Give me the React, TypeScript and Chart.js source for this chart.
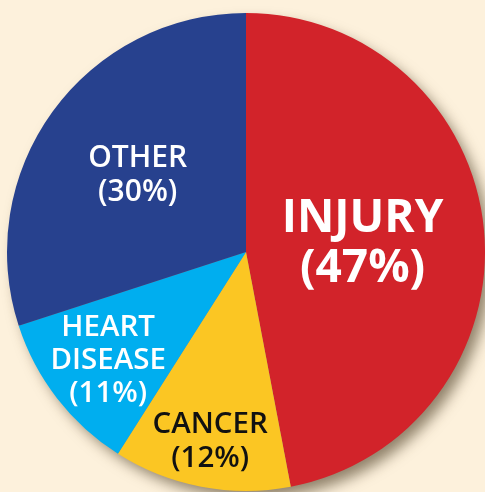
import React, { useEffect, useRef } from "react";
import { Chart, registerables } from "chart.js";

Chart.register(...registerables);

const categories = ["INJURY", "CANCER", "HEART DISEASE", "OTHER"];
const values = [47, 12, 11, 30];
const labelLines = [["INJURY", "(47%)"], ["CANCER", "(12%)"], ["HEART", "DISEASE", "(11%)"], ["OTHER", "(30%)"]];
const sliceColors = ["#D2232A", "#FBC623", "#00AEEF", "#27418E"];
const textColors = ["#FFFFFF", "#111111", "#FFFFFF", "#FFFFFF"];

const BG = "#FDF1DC";

export default function App() {
  const ref = useRef<HTMLCanvasElement>(null);

  useEffect(() => {
    if (!ref.current) return;
    const labelStyle = [
      { r: 0.49, size: 46, weight: 700, lh: 50 },
      { r: 0.8, size: 29.5, weight: 600, lh: 34 },
      { r: 0.73, size: 29.5, weight: 600, lh: 33 },
      { r: 0.56, size: 30, weight: 600, lh: 34.5 },
    ];
    const shadowPlugin = {
      id: "pieShadow",
      beforeDatasetsDraw(chart: any) {
        const arc = chart.getDatasetMeta(0).data[0];
        if (!arc) return;
        const { x, y, outerRadius } = arc.getProps(["x", "y", "outerRadius"], true);
        const ctx = chart.ctx;
        ctx.save();
        ctx.shadowColor = "rgba(70,55,30,0.6)";
        ctx.shadowBlur = 14;
        ctx.shadowOffsetX = 7;
        ctx.shadowOffsetY = 8;
        ctx.fillStyle = "#888";
        ctx.beginPath();
        ctx.arc(x, y, outerRadius - 1, 0, Math.PI * 2);
        ctx.fill();
        ctx.restore();
      },
    };
    const labelPlugin = {
      id: "sliceLabels",
      afterDatasetsDraw(chart: any) {
        const ctx = chart.ctx;
        chart.getDatasetMeta(0).data.forEach((arc: any, i: number) => {
          const { x, y, startAngle, endAngle, outerRadius } = arc.getProps(
            ["x", "y", "startAngle", "endAngle", "outerRadius"],
            true
          );
          const st = labelStyle[i];
          const mid = (startAngle + endAngle) / 2;
          const cx = x + Math.cos(mid) * outerRadius * st.r;
          const cy = y + Math.sin(mid) * outerRadius * st.r;
          const lines = labelLines[i];
          ctx.save();
          ctx.font = `${st.weight} ${st.size}px "Open Sans"`;
          ctx.fillStyle = textColors[i];
          ctx.textAlign = "center";
          ctx.textBaseline = "alphabetic";
          const cap = st.size * 0.714;
          const n = lines.length;
          lines.forEach((ln: string, k: number) => {
            const midY = cy + (k - (n - 1) / 2) * st.lh;
            ctx.fillText(ln, cx, midY + cap / 2);
          });
          ctx.restore();
        });
      },
    };
    const chart = new Chart(ref.current, {
      type: "pie",
      data: {
        labels: categories,
        datasets: [
          {
            data: values,
            backgroundColor: sliceColors,
            borderWidth: 0,
          },
        ],
      },
      options: {
        responsive: false,
        animation: false,
        layout: { padding: { left: 7, top: 13, right: 0, bottom: 1 } },
        plugins: { legend: { display: false }, tooltip: { enabled: false } },
      },
      plugins: [shadowPlugin, labelPlugin],
    });
    return () => chart.destroy();
  }, []);

  return (
    <div
      style={{
        position: "absolute",
        left: 0,
        top: 0,
        width: 485,
        height: 492,
        background: BG,
        overflow: "hidden",
      }}
    >
      <canvas ref={ref} width={485} height={492} style={{ display: "block" }} />
    </div>
  );
}
